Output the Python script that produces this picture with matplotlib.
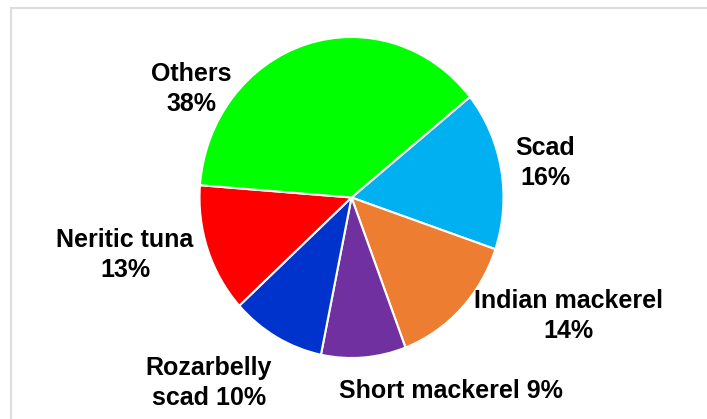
import matplotlib
matplotlib.use("Agg")
import matplotlib.pyplot as plt
from matplotlib.patches import Rectangle

plt.rcParams['font.family'] = ['Liberation Sans', 'DejaVu Sans']

# catch composition (%)
species = ["Scad", "Indian mackerel", "Short mackerel", "Rozarbelly scad", "Neritic tuna", "Others"]
share = [16, 14, 9, 10, 13, 38]
colors = ["#00B0F0", "#ED7D31", "#7030A0", "#0033CC", "#FF0000", "#00FF00"]

# label text layout (line break position) and label centres in pixels
label_fmt = ["{}\n{}%", "{}\n{}%", "{} {}%", "Rozarbelly\nscad {1}%", "{}\n{}%", "{}\n{}%"]
label_px = [(545, 163), (568, 316), (451, 391), (209, 383), (125, 255), (191, 89)]

W, H = 707, 419
fig = plt.figure(figsize=(W / 100, H / 100), dpi=100)
ax = fig.add_axes([0, 0, 1, 1])

ax.pie(share, colors=colors, startangle=38.8, counterclock=False,
       wedgeprops=dict(edgecolor="white", linewidth=1.5))

# slightly taller than wide, as in the original export
cx, cy, rx, ry = 351.5, 197.5, 152, 160.5
ax.set_aspect('auto')
ax.set_xlim(-cx / rx, (W - cx) / rx)
ax.set_ylim((cy - H) / ry, cy / ry)
ax.axis('off')

for name, val, fmt, (px, py) in zip(species, share, label_fmt, label_px):
    fig.text(px / W, 1 - py / H, fmt.format(name, val), ha='center', va='center',
             fontsize=18, fontweight='bold', color='black', linespacing=1.32)

# chart area border
fig.add_artist(Rectangle((11 / W, -0.1), 1.2, 1 - 8 / H + 0.1, transform=fig.transFigure,
                         fill=False, edgecolor="#DDDDDD", linewidth=1.5))

fig.savefig("out.png", dpi=100)
